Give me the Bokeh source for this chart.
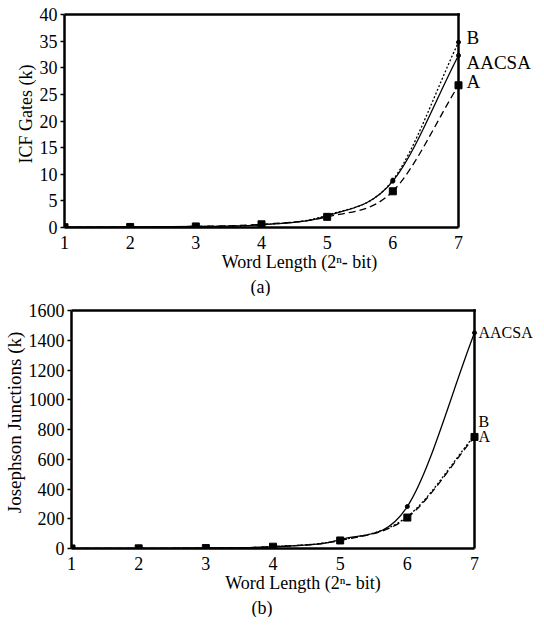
from bokeh.plotting import figure
from bokeh.models import Range1d, FixedTicker, Title
from bokeh.core.properties import value
from bokeh.embed import file_html
from bokeh.resources import INLINE

# ---- data ----
n = [1, 2, 3, 4, 5, 6, 7]
x_ticks = [1, 2, 3, 4, 5, 6, 7]

gates_aacsa = [0.05, 0.1, 0.2, 0.5, 2.2, 8.7, 32.3]
gates_a = [0.05, 0.1, 0.2, 0.6, 2.0, 6.8, 26.7]
gates_b = [0.05, 0.1, 0.2, 0.5, 2.3, 8.9, 34.8]
gates_ticks = [0, 5, 10, 15, 20, 25, 30, 35, 40]

jj_aacsa = [0.3, 1, 3, 12, 60, 282, 1450]
jj_a = [0.3, 1, 3, 12, 54, 208, 750]
jj_b = [0.3, 1, 3, 12, 56, 215, 760]
jj_ticks = [0, 200, 400, 600, 800, 1000, 1200, 1400, 1600]

FONT = "Liberation Serif"


def smooth(p, xs, ys, **kw):
    """Smooth curve through the data points (Catmull-Rom tangents, cubic Bezier)."""
    k = len(xs)
    m = []
    for i in range(k):
        if i == 0:
            m.append((ys[1] - ys[0]) / (xs[1] - xs[0]))
        elif i == k - 1:
            m.append((ys[-1] - ys[-2]) / (xs[-1] - xs[-2]))
        else:
            m.append((ys[i + 1] - ys[i - 1]) / (xs[i + 1] - xs[i - 1]))
    d = dict(x0=[], y0=[], x1=[], y1=[], cx0=[], cy0=[], cx1=[], cy1=[])
    for i in range(k - 1):
        h = xs[i + 1] - xs[i]
        d["x0"].append(xs[i]); d["y0"].append(ys[i])
        d["x1"].append(xs[i + 1]); d["y1"].append(ys[i + 1])
        d["cx0"].append(xs[i] + h / 3); d["cy0"].append(ys[i] + m[i] * h / 3)
        d["cx1"].append(xs[i + 1] - h / 3); d["cy1"].append(ys[i + 1] - m[i + 1] * h / 3)
    p.bezier(line_color="black", **d, **kw)


def make_fig(yticks, ylabel, caption, margin_left, frame_w, box_w, box_h, pad_top,
             ylabel_size, cap_offset):
    """box_w/box_h: pixel size of the drawn box; the frame extends to the right
    (room for the series names) and pad_top pixels above the box."""
    xmin, xmax = x_ticks[0], x_ticks[-1]
    ymax = yticks[-1]
    x_end = xmin + frame_w * (xmax - xmin) / box_w
    y_end = ymax * (box_h + pad_top) / box_h
    p = figure(frame_width=frame_w, frame_height=box_h + pad_top,
               output_backend="svg", toolbar_location=None,
               x_range=Range1d(xmin, x_end), y_range=Range1d(0, y_end),
               min_border=0, min_border_left=0, min_border_right=0,
               min_border_top=0, min_border_bottom=0,
               margin=(0, 0, 0, margin_left))
    p.grid.visible = False
    p.outline_line_color = None
    p.background_fill_color = "white"
    p.border_fill_color = "white"

    xa = p.xaxis[0]
    ya = p.yaxis[0]
    xa.ticker = FixedTicker(ticks=x_ticks)
    xa.bounds = (xmin, xmax)
    ya.ticker = FixedTicker(ticks=yticks)
    ya.bounds = (0, ymax)
    for ax in (xa, ya):
        ax.axis_line_color = "black"
        ax.axis_line_width = 2.5
        ax.minor_tick_line_color = None
        ax.major_label_text_font = FONT
        ax.major_label_text_font_size = "18px"
        ax.major_label_text_color = "black"
        ax.axis_label_text_font = FONT
        ax.axis_label_text_font_style = "normal"
        ax.axis_label_text_color = "black"
    xa.major_tick_line_color = None
    xa.major_label_standoff = 2
    ya.major_tick_out = 4
    ya.major_tick_in = 0
    ya.major_tick_line_width = 1.5
    ya.major_tick_line_color = "black"
    ya.major_label_standoff = 3

    xa.axis_label = "Word Length (2ⁿ- bit)"
    xa.axis_label_text_font_size = "18px"
    xa.axis_label_standoff = 0
    ya.axis_label = ylabel
    ya.axis_label_text_font_size = ylabel_size
    ya.axis_label_standoff = 1

    # top and right edges of the box
    p.segment(x0=[xmin, xmax], y0=[ymax, 0], x1=[xmax, xmax], y1=[ymax, ymax],
              line_color="black", line_width=2.5, line_cap="square")

    p.add_layout(Title(text=caption, align="left", offset=cap_offset, text_font=FONT,
                       text_font_size="18px", text_font_style="normal",
                       text_color="black", standoff=0), "below")
    return p


def labels(p, names, yvals, dys, size, dx):
    p.text(x=[x_ticks[-1]] * len(names), y=yvals, text=names, x_offset=dx, y_offset=dys,
           text_font=value(FONT), text_font_size=size, text_baseline="middle",
           text_align="left", text_color="black")


# ---- (a) ICF gates ----
pa = make_fig(gates_ticks, "ICF Gates (k)", "(a)", 12, 470, 394, 213, 14, "18px", 186)
smooth(pa, n, gates_a, line_width=1.3, line_dash="7 4")
smooth(pa, n, gates_b, line_width=1.3, line_dash="2 2")
smooth(pa, n, gates_aacsa, line_width=1.3)
pa.scatter(n, gates_a, marker="square", size=7, color="black")
pa.scatter(n[5:], gates_b[5:], marker="circle", size=4, color="black")
pa.scatter(n[5:], gates_aacsa[5:], marker="circle", size=4, color="black")
labels(pa, ["B", "AACSA", "A"], [gates_b[-1], gates_aacsa[-1], gates_a[-1]],
       [-5, 7, -4], "19px", 8)

# ---- (b) Josephson junctions ----
pb = make_fig(jj_ticks, "Josephson Junctions (k)", "(b)", 0, 463, 403, 238, 14, "19px", 180)
smooth(pb, n, jj_a, line_width=1.3, line_dash="7 4")
smooth(pb, n, jj_b, line_width=1.3, line_dash="2 2")
smooth(pb, n, jj_aacsa, line_width=1.3)
pb.scatter(n, jj_a, marker="square", size=7, color="black")
pb.scatter(n[5:], jj_b[5:], marker="circle", size=4, color="black")
pb.scatter(n[5:], jj_aacsa[5:], marker="circle", size=4, color="black")
labels(pb, ["AACSA", "B", "A"], [jj_aacsa[-1], jj_b[-1], jj_a[-1]],
       [0, -14, 0], "16px", 4)

open("out.html", "w").write(file_html([pa, pb], INLINE))
